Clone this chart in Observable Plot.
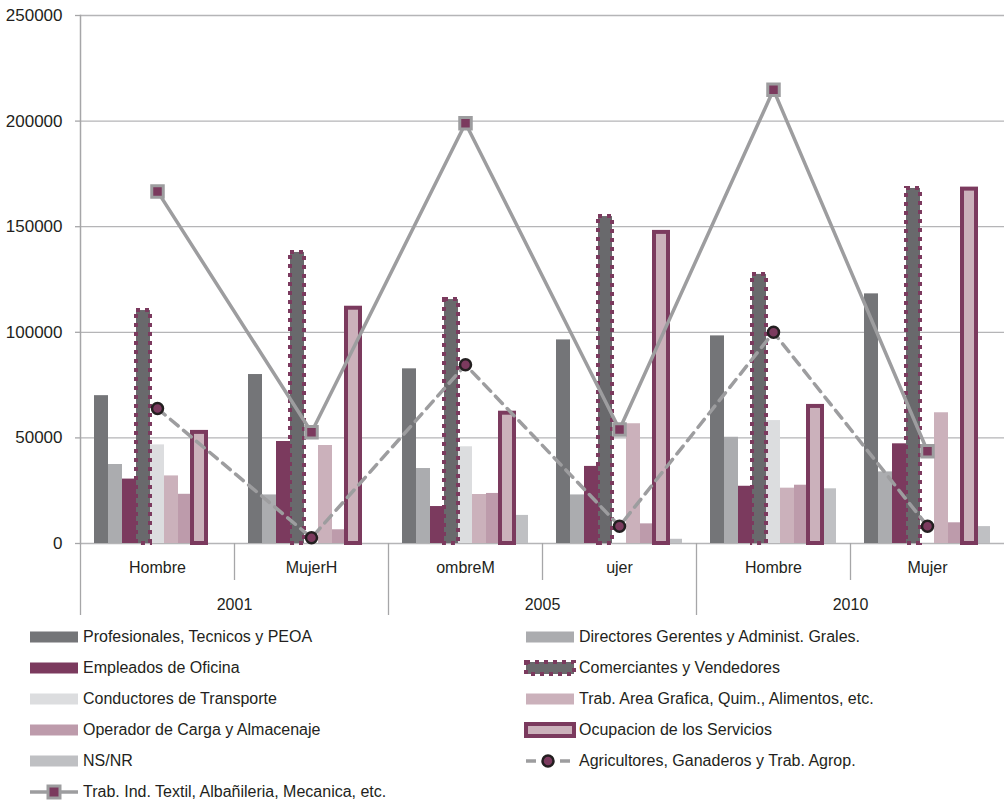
<!DOCTYPE html>
<html>
<head>
<meta charset="utf-8">
<script src="https://cdn.jsdelivr.net/npm/d3@7"></script>
<script src="https://cdn.jsdelivr.net/npm/@observablehq/plot@0.6"></script>
<style>
  body { margin: 0; background: #fff; font-family: "Liberation Sans", Arial, sans-serif; color: #231f20; }
  #chart { width: 1004px; height: 620px; }
  #legend { display: grid; grid-template-columns: 496px 478px; padding-left: 28px; padding-top: 1px; }
  .item { display: flex; align-items: center; height: 31px; font-size: 16px; white-space: nowrap; }
  .item svg { flex: none; margin-right: 3px; }
</style>
</head>
<body>
<div id="chart"></div>
<div id="legend"></div>
<script>
// ---- Data ----
const groups = ["g0", "g1", "g2", "g3", "g4", "g5"];
const groupLabels = ["Hombre", "MujerH", "ombreM", "ujer", "Hombre", "Mujer"];
const years = ["2001", "2005", "2010"];
const yTicks = [0, 50000, 100000, 150000, 200000, 250000];

const barSeries = [
  "Profesionales, Tecnicos y PEOA",
  "Directores Gerentes y Administ. Grales.",
  "Empleados de Oficina",
  "Comerciantes y Vendedores",
  "Conductores de Transporte",
  "Trab. Area Grafica, Quim., Alimentos, etc.",
  "Operador de Carga y Almacenaje",
  "Ocupacion de los Servicios",
  "NS/NR"
];
const profesionales = [70000, 80000, 82700, 96400, 98300, 118200];
const directores   = [37400, 23000, 35500, 23000, 50300, 33900];
const empleados    = [30500, 48300, 17500, 36500, 27100, 47200];
const comerciantes = [110300, 137800, 115500, 154800, 127400, 168100];
const conductores  = [46700, 0, 45800, 0, 58200, 0];
const trabGrafica  = [32000, 46400, 23200, 56700, 26200, 61900];
const operador     = [23300, 6500, 23700, 9300, 27600, 9800];
const ocupacion    = [52600, 111400, 61700, 147300, 64900, 167800];
const nsnr         = [0, 0, 13300, 2000, 25900, 8000];
const barValues = [profesionales, directores, empleados, comerciantes, conductores, trabGrafica, operador, ocupacion, nsnr];

const agricName = "Agricultores, Ganaderos y Trab. Agrop.";
const textilName = "Trab. Ind. Textil, Albañileria, Mecanica, etc.";
const agricultores = [63900, 2700, 84600, 8200, 100000, 8200];
const textil = [166700, 52700, 199000, 54000, 214800, 43700];

// ---- Styles ----
const MAROON = "#7b3a5e";
const LINEGRAY = "#9d9d9f";
const barStyles = {
  "Profesionales, Tecnicos y PEOA": {fill: "#747578"},
  "Directores Gerentes y Administ. Grales.": {fill: "#abacaf"},
  "Empleados de Oficina": {fill: MAROON},
  "Comerciantes y Vendedores": {fill: "#69696c", stroke: MAROON, strokeWidth: 4, strokeDasharray: "4,5"},
  "Conductores de Transporte": {fill: "#dcdddf"},
  "Trab. Area Grafica, Quim., Alimentos, etc.": {fill: "#cbb1bb"},
  "Operador de Carga y Almacenaje": {fill: "#bd9bab"},
  "Ocupacion de los Servicios": {fill: "#cbb1bb", stroke: MAROON, strokeWidth: 4},
  "NS/NR": {fill: "#bfc0c3"}
};

// ---- Derived tables ----
const slots = ["padL", ...barSeries, "padR"];
const xDomain = groups.flatMap(g => slots.map(s => g + "|" + s));
const centerKey = g => g + "|" + barSeries[4];
const barData = barSeries.flatMap((s, si) => groups.map((g, gi) => ({key: g + "|" + s, series: s, value: barValues[si][gi]})));
const agricData = groups.map((g, i) => ({key: centerKey(g), value: agricultores[i]}));
const textilData = groups.map((g, i) => ({key: centerKey(g), value: textil[i]}));

const plainSeries = barSeries.filter(s => !barStyles[s].stroke);
const strokedSeries = barSeries.filter(s => barStyles[s].stroke);
const barMark = s => Plot.barY(barData.filter(d => d.series === s), {x: "key", y: "value", ...barStyles[s]});

const shortDividers = [1, 3, 5].map(i => groups[i] + "|padL");
const longDividers = [0, 2, 4].map(i => groups[i] + "|padL");
const yearKeys = [0, 2, 4].map(i => groups[i] + "|padR");

const chart = Plot.plot({
  width: 1004,
  height: 620,
  marginLeft: 80,
  marginRight: 0,
  marginTop: 15,
  marginBottom: 77,
  style: {fontFamily: "'Liberation Sans', Arial, sans-serif", fontSize: "16px", color: "#231f20", background: "white", overflow: "visible"},
  x: {type: "band", domain: xDomain, paddingInner: 0, paddingOuter: 0, axis: null},
  y: {domain: [0, 250000], axis: null},
  marks: [
    Plot.gridY(yTicks, {stroke: "#b5b5b7", strokeOpacity: 1, strokeWidth: 1.3}),
    Plot.axisY(yTicks, {tickSize: 5, tickPadding: 13, tickFormat: d3.format("d"), stroke: "#a6a6a8", strokeWidth: 1.3, fill: "#231f20", fontSize: 17, label: null}),
    Plot.frame({anchor: "left", stroke: "#a6a6a8", strokeWidth: 1.5}),
    ...plainSeries.map(barMark),
    ...strokedSeries.map(barMark),
    Plot.line(agricData, {x: "key", y: "value", stroke: LINEGRAY, strokeWidth: 3.5, strokeDasharray: "10,7"}),
    Plot.line(textilData, {x: "key", y: "value", stroke: LINEGRAY, strokeWidth: 3.5}),
    Plot.dot(agricData, {x: "key", y: "value", r: 5.5, fill: MAROON, stroke: "#231f20", strokeWidth: 2.5}),
    Plot.dot(textilData, {x: "key", y: "value", symbol: "square", r: 6.5, fill: MAROON, stroke: LINEGRAY, strokeWidth: 3}),
    Plot.ruleX(shortDividers, {dx: -7, insetTop: 528, insetBottom: -37, stroke: "#a6a6a8", strokeWidth: 1.3}),
    Plot.ruleX(longDividers, {dx: -7, insetTop: 528, insetBottom: -72, stroke: "#a6a6a8", strokeWidth: 1.3}),
    Plot.text(groups, {x: centerKey, text: (g, i) => groupLabels[i], frameAnchor: "bottom", lineAnchor: "middle", dy: 24, fill: "#231f20", fontSize: 16}),
    Plot.text(yearKeys, {x: d => d, text: (d, i) => years[i], frameAnchor: "bottom", lineAnchor: "middle", dx: 7, dy: 61, fill: "#231f20", fontSize: 16})
  ]
});
document.getElementById("chart").appendChild(chart);

// ---- Legend ----
const ns = "http://www.w3.org/2000/svg";
function swatch(name) {
  const svg = document.createElementNS(ns, "svg");
  svg.setAttribute("width", 52);
  svg.setAttribute("height", 20);
  let html = "";
  if (name === agricName) {
    html = `<line x1="2" y1="10" x2="46" y2="10" stroke="${LINEGRAY}" stroke-width="3.5" stroke-dasharray="10,7"/>` +
           `<circle cx="24" cy="10" r="5.5" fill="${MAROON}" stroke="#231f20" stroke-width="2.5"/>`;
  } else if (name === textilName) {
    html = `<line x1="2" y1="10" x2="50" y2="10" stroke="${LINEGRAY}" stroke-width="3.5"/>` +
           `<rect x="20" y="4" width="12" height="12" fill="${MAROON}" stroke="${LINEGRAY}" stroke-width="3"/>`;
  } else {
    const st = barStyles[name];
    if (st.stroke) {
      html = `<rect x="2" y="4" width="48" height="12" fill="${st.fill}" stroke="${st.stroke}" stroke-width="${st.strokeWidth}"${st.strokeDasharray ? ` stroke-dasharray="${st.strokeDasharray}"` : ""}/>`;
    } else {
      html = `<rect x="2" y="4.5" width="48" height="11" fill="${st.fill}"/>`;
    }
  }
  svg.innerHTML = html;
  return svg;
}
const legend = document.getElementById("legend");
[...barSeries, agricName, textilName].forEach(name => {
  const item = document.createElement("div");
  item.className = "item";
  item.appendChild(swatch(name));
  const span = document.createElement("span");
  span.textContent = name;
  item.appendChild(span);
  legend.appendChild(item);
});
</script>
</body>
</html>
